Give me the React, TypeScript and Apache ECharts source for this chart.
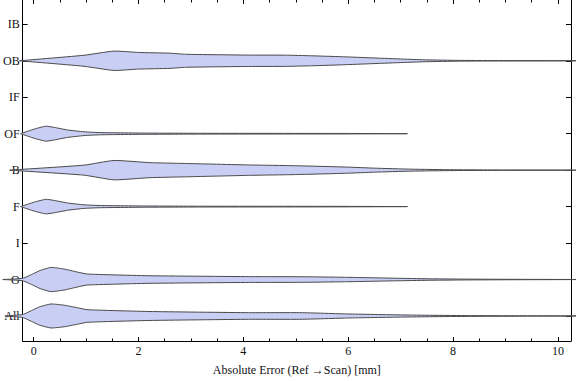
import React, { useEffect, useRef } from "react";
import * as echarts from "echarts";

const categories = ["All", "O", "I", "F", "B", "OF", "IF", "OB", "IB"];
const xMajorTicks = [0, 2, 4, 6, 8, 10];
const xMinorTicks = [0.5, 1, 1.5, 2.5, 3, 3.5, 4.5, 5, 5.5, 6.5, 7, 7.5, 8.5, 9, 9.5];
const categoryPositions = [1, 2, 3, 4, 5, 6, 7, 8, 9];

// violin profiles: x = absolute error, w = half-width of the density (category units)
const allX = [-0.55, -0.21, 0.0, 0.12, 0.33, 0.58, 0.83, 1.02, 2.2, 4.1, 5.1, 6.0, 7.0, 7.6, 8.3, 9.3, 10.8];
const allW = [0, 0.041, 0.178, 0.255, 0.329, 0.296, 0.228, 0.173, 0.123, 0.091, 0.091, 0.055, 0.03, 0.019, 0.011, 0.005, 0];

const oX = [-0.59, -0.21, 0.0, 0.12, 0.33, 0.58, 0.83, 1.02, 2.2, 4.1, 5.1, 6.0, 7.0, 7.6, 8.3, 9.3, 10.8];
const oW = [0, 0.033, 0.165, 0.247, 0.332, 0.288, 0.206, 0.151, 0.104, 0.08, 0.077, 0.06, 0.033, 0.019, 0.011, 0.005, 0];

const fX = [-0.25, 0.01, 0.23, 0.39, 0.65, 0.96, 1.27, 2.2, 3.2, 5.9, 7.13];
const fW = [0, 0.123, 0.2, 0.17, 0.099, 0.049, 0.03, 0.016, 0.011, 0.007, 0];

const bX = [-0.46, 0.96, 1.53, 2.22, 2.87, 4.1, 5.0, 5.96, 6.5, 7.2, 8.0, 9.0, 10.8];
const bW = [0, 0.137, 0.266, 0.206, 0.184, 0.143, 0.121, 0.085, 0.055, 0.027, 0.011, 0.005, 0];

const ofX = [-0.25, 0.01, 0.23, 0.39, 0.65, 0.96, 1.27, 2.2, 3.2, 5.9, 7.13];
const ofW = [0, 0.126, 0.206, 0.173, 0.101, 0.052, 0.03, 0.016, 0.011, 0.007, 0];

const obX = [-0.27, 0.96, 1.53, 2.0, 2.6, 2.9, 4.1, 4.8, 5.3, 5.96, 6.6, 7.1, 7.5, 8.1, 8.8, 10.8];
const obW = [0, 0.151, 0.266, 0.228, 0.208, 0.178, 0.156, 0.154, 0.137, 0.107, 0.071, 0.044, 0.025, 0.011, 0.005, 0];

const violins = [
  { cat: "All", x: allX, w: allW },
  { cat: "O", x: oX, w: oW },
  { cat: "F", x: fX, w: fW },
  { cat: "B", x: bX, w: bW },
  { cat: "OF", x: ofX, w: ofW },
  { cat: "OB", x: obX, w: obW },
];

const FONT = "'Liberation Serif', 'Times New Roman', serif";
const TEXT = "#111";

export default function App() {
  const ref = useRef<HTMLDivElement>(null);
  useEffect(() => {
    if (!ref.current) return;
    const chart = echarts.init(ref.current, null, { renderer: "svg" });
    const xMin = -0.21;
    const xMax = 10.25;
    const yMin = 0.314;
    const yMax = 9.667;
    const tickLine = { lineStyle: { color: "#000", width: 1 } };
    const option: any = {
      animation: false,
      grid: { left: 20, right: 5, top: 0, bottom: 40, containLabel: false },
      xAxis: [
        {
          type: "value", position: "bottom", min: xMin, max: xMax,
          axisLine: { show: true, onZero: false, lineStyle: { color: "#000", width: 1 } },
          axisTick: { show: true, inside: true, length: 4, customValues: xMajorTicks, ...tickLine },
          axisLabel: { show: true, customValues: xMajorTicks, margin: 4, fontFamily: FONT, fontSize: 12, color: TEXT },
          splitLine: { show: false },
          name: "Absolute Error (Ref \u2192Scan) [mm]",
          nameLocation: "middle", nameGap: 23,
          nameTextStyle: { fontFamily: FONT, fontSize: 12, color: TEXT },
        },
        {
          type: "value", position: "bottom", min: xMin, max: xMax,
          axisLine: { show: false, onZero: false },
          axisTick: { show: true, inside: true, length: 2.5, customValues: xMinorTicks, ...tickLine },
          axisLabel: { show: false }, splitLine: { show: false },
        },
        {
          type: "value", position: "top", min: xMin, max: xMax,
          axisLine: { show: false, onZero: false },
          axisTick: { show: true, inside: true, length: 4, customValues: xMajorTicks, ...tickLine },
          axisLabel: { show: false }, splitLine: { show: false },
        },
        {
          type: "value", position: "top", min: xMin, max: xMax,
          axisLine: { show: false, onZero: false },
          axisTick: { show: true, inside: true, length: 2.5, customValues: xMinorTicks, ...tickLine },
          axisLabel: { show: false }, splitLine: { show: false },
        },
      ],
      yAxis: [
        {
          type: "value", position: "left", min: yMin, max: yMax,
          axisLine: { show: true, onZero: false, lineStyle: { color: "#000", width: 1 } },
          axisTick: { show: true, inside: true, length: 5, customValues: categoryPositions, ...tickLine },
          axisLabel: {
            show: true, customValues: categoryPositions, margin: 3,
            fontFamily: FONT, fontSize: 12, color: TEXT,
            formatter: (v: number) => categories[Math.round(v) - 1] ?? "",
          },
          splitLine: { show: false },
        },
        {
          type: "value", position: "right", min: yMin, max: yMax,
          axisLine: { show: true, onZero: false, lineStyle: { color: "#000", width: 1 } },
          axisTick: { show: true, inside: true, length: 5, customValues: categoryPositions, ...tickLine },
          axisLabel: { show: false }, splitLine: { show: false },
        },
      ],
      series: [
        {
          type: "custom",
          xAxisIndex: 0,
          yAxisIndex: 0,
          clip: false,
          z: 1,
          data: violins.map((v, i) => [i, categories.indexOf(v.cat) + 1]),
          renderItem: (params: any, api: any) => {
            const v = violins[params.dataIndex];
            const c = categories.indexOf(v.cat) + 1;
            const top = v.x.map((x, k) => api.coord([x, c + v.w[k]]));
            const bottom = v.x.map((x, k) => api.coord([x, c - v.w[k]])).reverse();
            return {
              type: "polygon",
              shape: { points: top.concat(bottom), smooth: 0.15 },
              style: { fill: "#c9cef4", stroke: "#4a4a4a", lineWidth: 1 },
            };
          },
        },
      ],
    };
    chart.setOption(option);
    return () => chart.dispose();
  }, []);
  return (
    <div
      ref={ref}
      style={{ position: "fixed", left: 0, top: 0, width: 576, height: 381, background: "#fff" }}
    />
  );
}
